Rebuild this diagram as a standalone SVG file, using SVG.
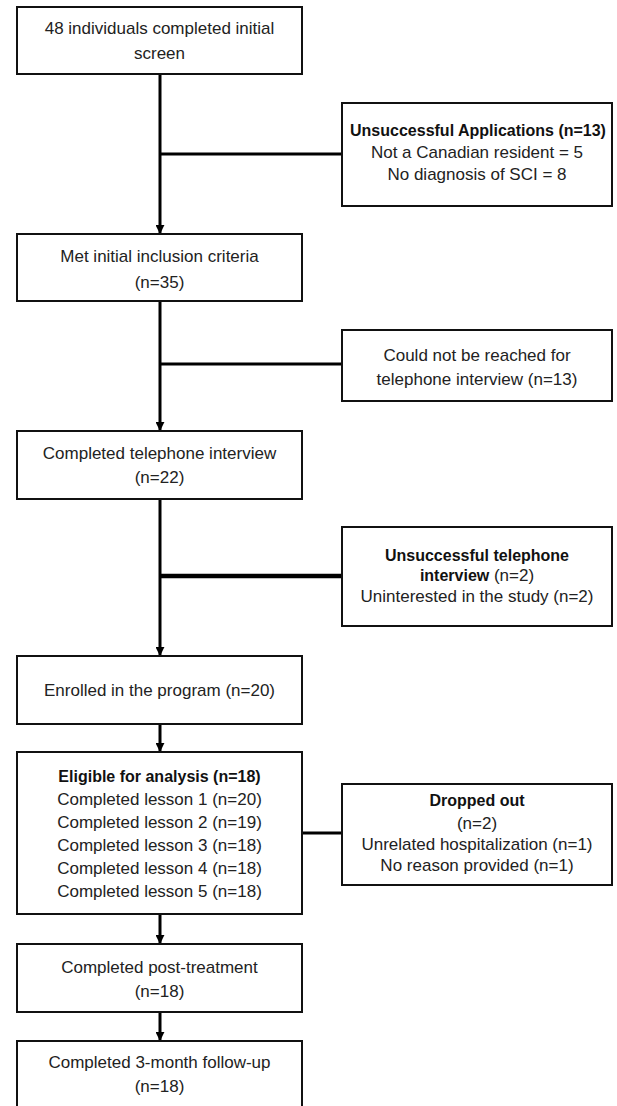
<svg xmlns="http://www.w3.org/2000/svg" width="617" height="1106" viewBox="0 0 617 1106">
<defs>
<style>
.box{fill:#fff;stroke:#111;stroke-width:2}
.t{font-family:"Liberation Sans",Arial,sans-serif;font-size:17px;fill:#222;text-anchor:middle}
.b{font-weight:bold;font-size:16px;fill:#111}
.c{stroke:#000;stroke-width:3;fill:none}
</style>
<marker id="ah" viewBox="0 0 10 10" refX="9" refY="5" markerWidth="3" markerHeight="3" orient="auto" markerUnits="strokeWidth">
<path d="M0,0 L10,5 L0,10 z" fill="#000"/>
</marker>
</defs>
<rect width="617" height="1106" fill="#fff"/>
<g id="connectors">
<line class="c" x1="160" y1="74" x2="160" y2="233" marker-end="url(#ah)"/>
<line class="c" x1="160" y1="301" x2="160" y2="430" marker-end="url(#ah)"/>
<line class="c" x1="160" y1="499" x2="160" y2="655" marker-end="url(#ah)"/>
<line class="c" x1="160" y1="724" x2="160" y2="751" marker-end="url(#ah)"/>
<line class="c" x1="160" y1="914" x2="160" y2="943" marker-end="url(#ah)"/>
<line class="c" x1="160" y1="1012" x2="160" y2="1040" marker-end="url(#ah)"/>
<line class="c" x1="160" y1="154" x2="342" y2="154"/>
<line class="c" x1="160" y1="364" x2="342" y2="364"/>
<line class="c" x1="160" y1="576" x2="342" y2="576" style="stroke-width:4.5"/>
<line class="c" x1="160" y1="833" x2="342" y2="833"/>
</g>
<g id="n1">
<rect class="box" x="17" y="7" width="285" height="67"/>
<text class="t" x="159.5" y="34">48 individuals completed initial</text>
<text class="t" x="159.5" y="59">screen</text>
</g>
<g id="n2">
<rect class="box" x="342" y="103" width="270" height="103"/>
<text class="t b" x="478" y="136">Unsuccessful Applications (n=13)</text>
<text class="t" x="477" y="158">Not a Canadian resident = 5</text>
<text class="t" x="477" y="180">No diagnosis of SCI = 8</text>
</g>
<g id="n3">
<rect class="box" x="17" y="234" width="285" height="67"/>
<text class="t" x="159.5" y="262">Met initial inclusion criteria</text>
<text class="t" x="159.5" y="288">(n=35)</text>
</g>
<g id="n4">
<rect class="box" x="342" y="330" width="270" height="71"/>
<text class="t" x="477" y="361">Could not be reached for</text>
<text class="t" x="477" y="385">telephone interview (n=13)</text>
</g>
<g id="n5">
<rect class="box" x="17" y="431" width="285" height="68"/>
<text class="t" x="159.5" y="459">Completed telephone interview</text>
<text class="t" x="159.5" y="483">(n=22)</text>
</g>
<g id="n6">
<rect class="box" x="342" y="527" width="270" height="99"/>
<text class="t b" x="477" y="561">Unsuccessful telephone</text>
<text class="t" x="477" y="581"><tspan class="b">interview</tspan> (n=2)</text>
<text class="t" x="477" y="602">Uninterested in the study (n=2)</text>
</g>
<g id="n7">
<rect class="box" x="17" y="656" width="285" height="68"/>
<text class="t" x="159.5" y="696">Enrolled in the program (n=20)</text>
</g>
<g id="n8">
<rect class="box" x="17" y="752" width="285" height="162"/>
<text class="t b" x="159.5" y="782">Eligible for analysis (n=18)</text>
<text class="t" x="159.5" y="805">Completed lesson 1 (n=20)</text>
<text class="t" x="159.5" y="828">Completed lesson 2 (n=19)</text>
<text class="t" x="159.5" y="851">Completed lesson 3 (n=18)</text>
<text class="t" x="159.5" y="874">Completed lesson 4 (n=18)</text>
<text class="t" x="159.5" y="897">Completed lesson 5 (n=18)</text>
</g>
<g id="n9">
<rect class="box" x="342" y="784" width="270" height="101"/>
<text class="t b" x="477" y="806">Dropped out</text>
<text class="t" x="477" y="829">(n=2)</text>
<text class="t" x="477" y="850">Unrelated hospitalization (n=1)</text>
<text class="t" x="477" y="871">No reason provided (n=1)</text>
</g>
<g id="n10">
<rect class="box" x="17" y="944" width="285" height="68"/>
<text class="t" x="159.5" y="973">Completed post-treatment</text>
<text class="t" x="159.5" y="997">(n=18)</text>
</g>
<g id="n11">
<rect class="box" x="17" y="1041" width="285" height="75"/>
<text class="t" x="159.5" y="1068">Completed 3-month follow-up</text>
<text class="t" x="159.5" y="1092">(n=18)</text>
</g>
</svg>
